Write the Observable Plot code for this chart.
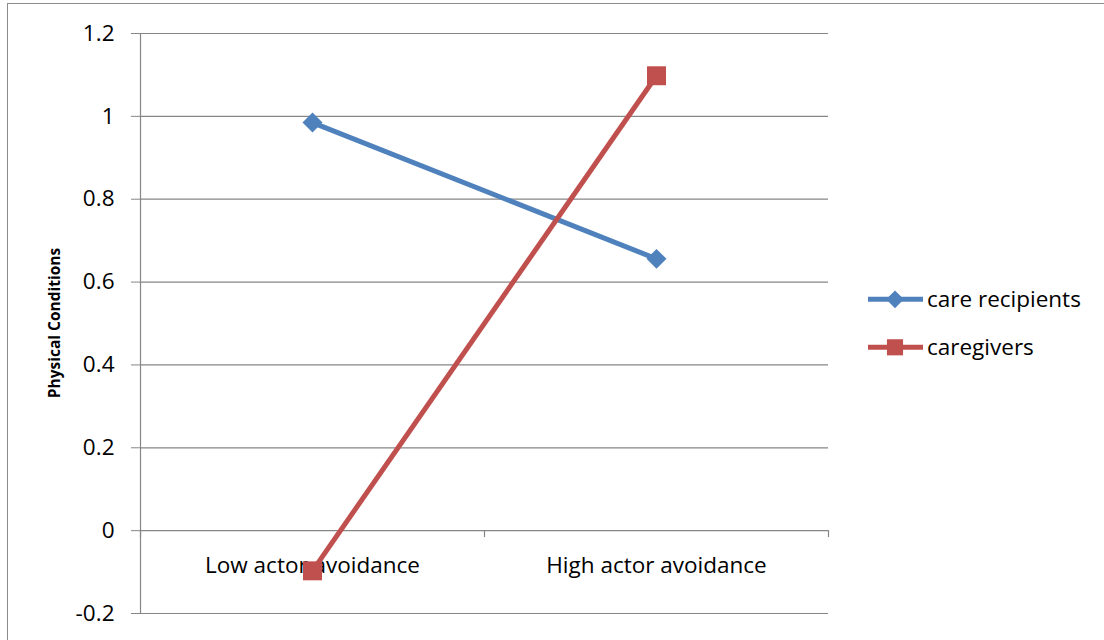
<!DOCTYPE html>
<html>
<head>
<meta charset="utf-8">
<script src="https://cdn.jsdelivr.net/npm/d3@7"></script>
<script src="https://cdn.jsdelivr.net/npm/@observablehq/plot@0.6"></script>
<style>
  html, body { margin: 0; padding: 0; background: #fff; }
  #wrap { position: relative; width: 1104px; height: 640px; overflow: hidden; font-family: "Open Sans", sans-serif; }
  #border { position: absolute; left: 7px; top: 3px; width: 1200px; height: 700px; border: 1.5px solid #8c8c8c; box-sizing: border-box; }
  #chart { position: absolute; left: 0; top: 0; }
  #legend { position: absolute; left: 860px; top: 280px; }
</style>
</head>
<body>
<div id="wrap">
  <div id="border"></div>
  <div id="chart"></div>
  <svg id="legend" width="244" height="90"></svg>
</div>
<script>
const categories = ["Low actor avoidance", "High actor avoidance"];
const seriesNames = ["care recipients", "caregivers"];
const careRecipients = [0.985, 0.656];
const caregivers = [-0.097, 1.098];
const yTicks = [-0.2, 0, 0.2, 0.4, 0.6, 0.8, 1, 1.2];
const yTitle = "Physical Conditions";
const colors = ["#4F81BD", "#C0504D"];
const symbols = ["diamond2", "square"];
const markerR = [9, 10.7];

const seriesValues = [careRecipients, caregivers];
const data = [];
seriesNames.forEach((s, si) => {
  categories.forEach((c, ci) => {
    data.push({series: s, category: c, pos: ci + 0.5, value: seriesValues[si][ci]});
  });
});
const boundaries = d3.range(categories.length + 1);

const font = "Open Sans, sans-serif";
const fs = 22.5;
const gridColor = "#868686";

const chart = Plot.plot({
  width: 1104,
  height: 640,
  marginLeft: 140,
  marginRight: 276,
  marginTop: 33,
  marginBottom: 27,
  style: {fontFamily: font, background: "transparent", overflow: "visible"},
  x: {domain: [0, categories.length], axis: null},
  y: {domain: [-0.2, 1.2], axis: null},
  color: {domain: seriesNames, range: colors},
  symbol: {domain: seriesNames, range: symbols},
  marks: [
    Plot.ruleY(yTicks, {stroke: gridColor, strokeWidth: 1.2, strokeOpacity: 1}),
    Plot.axisY({
      ticks: yTicks, tickSize: 9, tickPadding: 17, stroke: gridColor, strokeOpacity: 1,
      fontSize: fs, fill: "#000", tickFormat: d => String(d),
      label: null
    }),
    Plot.ruleX([0], {stroke: gridColor, strokeWidth: 1.2}),
    Plot.ruleX(boundaries, {y1: () => 0, y2: () => 0, insetBottom: -7, stroke: gridColor, strokeWidth: 1.2}),
    Plot.text(categories, {
      x: (d, i) => i + 0.5, y: () => 0, dy: 35, text: d => d,
      fontSize: fs, fill: "#000", fontFamily: font
    }),
    Plot.line(data, {x: "pos", y: "value", z: "series", stroke: "series", strokeWidth: 5, strokeLinecap: "butt"}),
    ...seriesNames.map((s, i) => Plot.dot(data.filter(d => d.series === s), {
      x: "pos", y: "value", symbol: "series", fill: "series", stroke: null, r: markerR[i]
    }))
  ]
});
document.getElementById("chart").appendChild(chart);

// y-axis title
const svg = d3.select(chart);
svg.append("text")
  .attr("transform", "translate(60,323) rotate(-90)")
  .attr("text-anchor", "middle")
  .attr("font-family", font)
  .attr("font-weight", "bold")
  .attr("font-size", 15.5)
  .attr("fill", "#000")
  .text(yTitle);

// legend
const leg = d3.select("#legend");
seriesNames.forEach((s, i) => {
  const g = leg.append("g").attr("transform", `translate(0,${19.3 + i * 48})`);
  g.append("line").attr("x1", 8).attr("x2", 63).attr("y1", 0).attr("y2", 0)
    .attr("stroke", colors[i]).attr("stroke-width", 5);
  const sym = d3.symbol().type(i === 0 ? d3.symbolDiamond2 : d3.symbolSquare).size(i === 0 ? 200 : 260);
  g.append("path").attr("d", sym()).attr("transform", "translate(35,0)").attr("fill", colors[i]);
  g.append("text").attr("x", 67).attr("y", 0).attr("dy", "0.35em")
    .attr("font-family", font).attr("font-size", fs).attr("fill", "#000").text(s);
});
</script>
</body>
</html>
